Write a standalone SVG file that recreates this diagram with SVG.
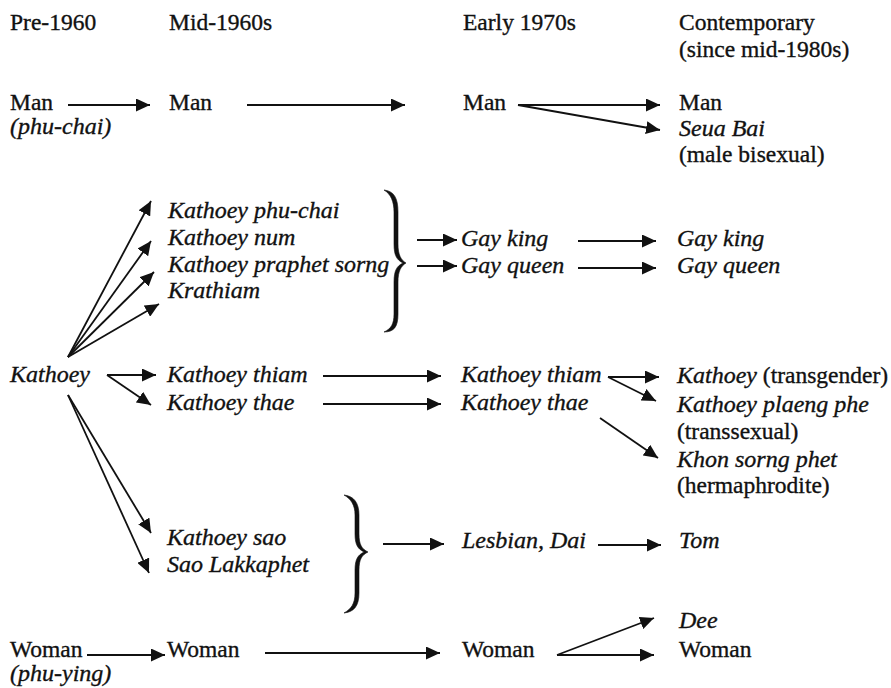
<svg xmlns="http://www.w3.org/2000/svg" width="891" height="688" viewBox="0 0 891 688">
<defs>
<marker id="ah" markerUnits="userSpaceOnUse" markerWidth="15" markerHeight="13" refX="14" refY="6.5" orient="auto">
<path d="M0,0 L14,6.5 L0,13 z" fill="#111"/>
</marker>
<style>
text{font-size:23.5px;fill:#111;stroke:#111;stroke-width:0.35}
.i{font-style:italic;font-size:24px}
.c line{stroke:#111;stroke-width:1.8;marker-end:url(#ah)}
.b{fill:#111;stroke:#111;stroke-width:0.6}
</style>
</defs>
<rect width="891" height="688" fill="#fff"/>
<g font-family="'Liberation Serif', 'Times New Roman', 'DejaVu Serif', serif">
<g id="headers">
<text x="10" y="30">Pre-1960</text>
<text x="169" y="30">Mid-1960s</text>
<text x="463" y="30">Early 1970s</text>
<text x="679" y="30">Contemporary</text>
<text x="679" y="57">(since mid-1980s)</text>
</g>
<g id="man-pre"><text x="10" y="110">Man</text><text x="10" y="134" class="i">(phu-chai)</text></g>
<g id="man-mid"><text x="169" y="110">Man</text></g>
<g id="man-early"><text x="463" y="110">Man</text></g>
<g id="man-cont"><text x="679" y="110">Man</text></g>
<g id="seua-bai"><text x="679" y="136" class="i">Seua Bai</text><text x="679" y="162">(male bisexual)</text></g>
<g id="kathoey-pre"><text x="10" y="382" class="i">Kathoey</text></g>
<g id="kathoey-group1">
<text x="168" y="218" class="i">Kathoey phu-chai</text>
<text x="168" y="245" class="i">Kathoey num</text>
<text x="168" y="272" class="i">Kathoey praphet sorng</text>
<text x="168" y="298" class="i">Krathiam</text>
</g>
<g id="gay-king-early"><text x="461" y="246" class="i">Gay king</text></g>
<g id="gay-queen-early"><text x="461" y="273" class="i">Gay queen</text></g>
<g id="gay-king-cont"><text x="677" y="246" class="i">Gay king</text></g>
<g id="gay-queen-cont"><text x="677" y="273" class="i">Gay queen</text></g>
<g id="kathoey-thiam-mid"><text x="167" y="382" class="i">Kathoey thiam</text></g>
<g id="kathoey-thae-mid"><text x="167" y="410" class="i">Kathoey thae</text></g>
<g id="kathoey-thiam-early"><text x="461" y="382" class="i">Kathoey thiam</text></g>
<g id="kathoey-thae-early"><text x="461" y="410" class="i">Kathoey thae</text></g>
<g id="kathoey-trans"><text x="677" y="383"><tspan class="i">Kathoey</tspan> (transgender)</text></g>
<g id="kathoey-plaeng"><text x="677" y="412" class="i">Kathoey plaeng phe</text><text x="677" y="439">(transsexual)</text></g>
<g id="khon-sorng"><text x="677" y="467" class="i">Khon sorng phet</text><text x="677" y="493">(hermaphrodite)</text></g>
<g id="kathoey-group2">
<text x="167" y="545" class="i">Kathoey sao</text>
<text x="167" y="572" class="i">Sao Lakkaphet</text>
</g>
<g id="lesbian"><text x="462" y="548" class="i">Lesbian, Dai</text></g>
<g id="tom"><text x="679" y="548" class="i">Tom</text></g>
<g id="woman-pre"><text x="10" y="657">Woman</text><text x="10" y="681" class="i">(phu-ying)</text></g>
<g id="woman-mid"><text x="167" y="657">Woman</text></g>
<g id="woman-early"><text x="462" y="657">Woman</text></g>
<g id="dee"><text x="679" y="628" class="i">Dee</text></g>
<g id="woman-cont"><text x="679" y="657">Woman</text></g>
</g>
<g id="braces">
<path class="b" d="M384,190 C394,191 398,198 398,212 L398,244 C398,255 401,260 406,263 C401,266 398,271 398,282 L398,314 C398,327 394,332 384,332 C391,329 394,324 394,314 L394,282 C394,270 397,266 403,263 C397,260 394,256 394,244 L394,212 C394,202 391,194 384,190 Z"/>
<path class="b" d="M344,495 C354,496 359,503 359,515 L359,534 C359,545 362,549 368,552 C362,555 359,559 359,570 L359,593 C359,606 354,612 344,613 C351,609 355,604 355,593 L355,570 C355,559 358,555 364,552 C358,549 355,545 355,534 L355,515 C355,505 351,499 344,495 Z"/>
</g>
<g id="connectors" class="c">
<line x1="68" y1="105" x2="150" y2="105"/>
<line x1="247" y1="105" x2="405" y2="105"/>
<line x1="518" y1="105" x2="660" y2="105"/>
<line x1="518" y1="105" x2="660" y2="130"/>
<line x1="68" y1="357" x2="151" y2="201"/>
<line x1="68" y1="357" x2="151" y2="241"/>
<line x1="68" y1="357" x2="154" y2="272"/>
<line x1="68" y1="357" x2="159" y2="304"/>
<line x1="417" y1="240" x2="457" y2="240"/>
<line x1="417" y1="266" x2="457" y2="266"/>
<line x1="578" y1="241" x2="656" y2="241"/>
<line x1="578" y1="268" x2="656" y2="268"/>
<line x1="107" y1="375" x2="156" y2="375"/>
<line x1="107" y1="375" x2="151" y2="405"/>
<line x1="323" y1="376" x2="441" y2="376"/>
<line x1="323" y1="404" x2="441" y2="404"/>
<line x1="608" y1="377" x2="659" y2="377"/>
<line x1="608" y1="377" x2="656" y2="401"/>
<line x1="600" y1="418" x2="658" y2="458"/>
<line x1="68" y1="395" x2="151" y2="533"/>
<line x1="68" y1="395" x2="149" y2="573"/>
<line x1="383" y1="544" x2="444" y2="544"/>
<line x1="598" y1="545" x2="661" y2="545"/>
<line x1="87" y1="655" x2="165" y2="655"/>
<line x1="265" y1="653" x2="440" y2="653"/>
<line x1="557" y1="655" x2="654" y2="618"/>
<line x1="557" y1="655" x2="654" y2="655"/>
</g>
</svg>
